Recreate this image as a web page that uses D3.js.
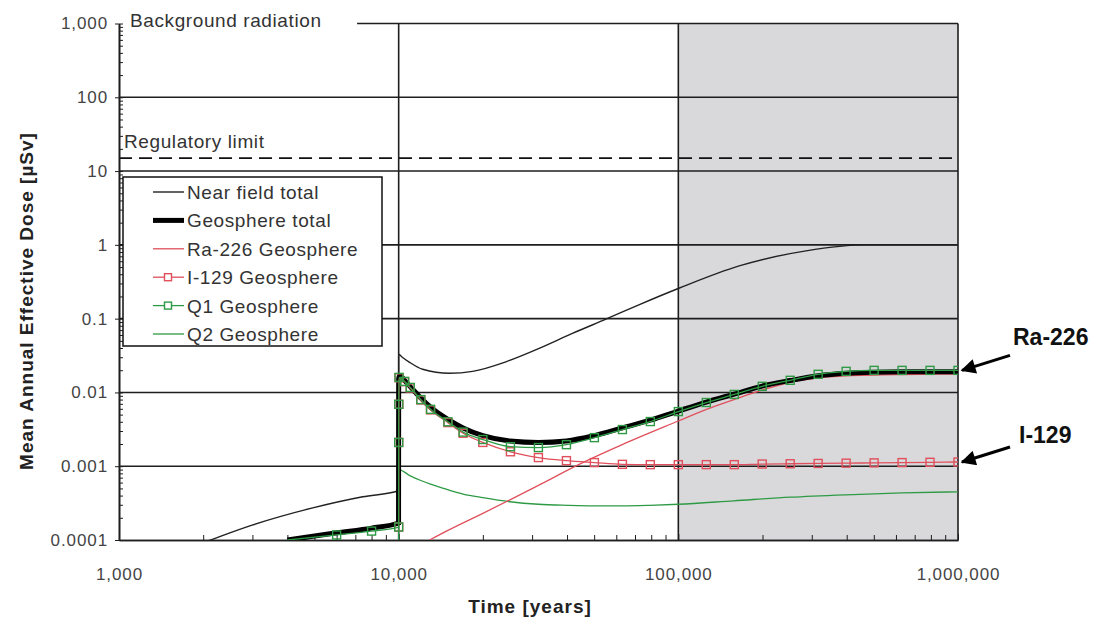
<!DOCTYPE html>
<html>
<head>
<meta charset="utf-8">
<script src="https://cdn.jsdelivr.net/npm/d3@7"></script>
<style>
  body { margin: 0; background: #fff; }
  text { font-family: "Liberation Sans", Arial, Helvetica, sans-serif; }
</style>
</head>
<body>
<script>
const WIDTH = 1094
const HEIGHT = 619
const svg = d3.select("body").append("svg").attr("width", WIDTH).attr("height", HEIGHT)

// axis ticks
const xTicks = [1000, 10000, 100000, 1000000]
const xTickLabels = ["1,000", "10,000", "100,000", "1,000,000"]
const yTicks = [0.0001, 0.001, 0.01, 0.1, 1, 10, 100, 1000]
const yTickLabels = ["0.0001", "0.001", "0.01", "0.1", "1", "10", "100", "1,000"]

// reference levels
const backgroundDose = 1000
const backgroundStart = 7100
const regulatoryDose = 15
const shadedFrom = 100000

// series (time in years, dose in µSv)
const nearFieldTime = [2000, 2170, 3010, 4930, 7440, 9990, 10000, 10300, 10940, 12180, 15200, 18370, 24300, 31800, 41800, 55300, 72600, 101000, 165000, 286000, 469000, 1000000]
const nearFieldDose = [0.000092, 0.000103, 0.00016, 0.000272, 0.000385, 0.000465, 0.0329, 0.030, 0.0256, 0.0206, 0.0182, 0.0193, 0.0262, 0.0395, 0.063, 0.099, 0.155, 0.26, 0.518, 0.83, 1.0, 1.0]

const geoTotalTime = [4000, 6000, 8000, 9990, 10000, 10100, 10500, 11000, 12000, 13000, 15000, 17000, 20000, 25000, 31600, 39800, 50100, 63100, 79400, 100000, 125900, 158500, 199500, 251200, 316200, 398100, 501200, 631000, 794300, 1000000]
const geoTotalDose = [0.0001, 0.000125, 0.000145, 0.00017, 0.0155, 0.017, 0.0145, 0.012, 0.0084, 0.0063, 0.0043, 0.0033, 0.0026, 0.0022, 0.0021, 0.0022, 0.0026, 0.0033, 0.0042, 0.0056, 0.0074, 0.0095, 0.0122, 0.0145, 0.0168, 0.0182, 0.0188, 0.019, 0.019, 0.019]

const ra226Time = [12900, 15000, 20000, 25000, 31600, 44000, 63000, 100000, 126000, 158000, 200000, 251000, 316000, 398000, 631000, 1000000]
const ra226Dose = [0.0001, 0.000135, 0.00023, 0.00035, 0.00055, 0.00105, 0.00196, 0.0041, 0.0059, 0.008, 0.0108, 0.0137, 0.0158, 0.0168, 0.0175, 0.0177]

const i129Time = [10000, 10003, 10010, 10030, 10500, 11000, 12000, 13000, 15000, 17000, 20000, 25100, 31600, 39800, 50100, 63100, 79400, 100000, 125900, 158500, 199500, 251200, 316200, 398100, 501200, 631000, 794300, 1000000]
const i129Dose = [0.00015, 0.0021, 0.0069, 0.0158, 0.014, 0.0115, 0.0079, 0.0058, 0.0039, 0.0028, 0.0021, 0.00157, 0.00131, 0.00119, 0.00112, 0.00106, 0.00105, 0.00105, 0.00105, 0.00105, 0.00107, 0.00108, 0.00109, 0.0011, 0.00111, 0.00112, 0.00113, 0.00114]

const q1Time = [4000, 6000, 8000, 10000, 10003, 10010, 10030, 10500, 11000, 12000, 13000, 15000, 17000, 20000, 25100, 31600, 39800, 50100, 63100, 79400, 100000, 125900, 158500, 199500, 251200, 316200, 398100, 501200, 631000, 794300, 1000000]
const q1Dose = [0.0001, 0.000117, 0.000132, 0.00015, 0.0021, 0.0069, 0.016, 0.0141, 0.0117, 0.008, 0.0059, 0.004, 0.0029, 0.0023, 0.00184, 0.00179, 0.00196, 0.00244, 0.00314, 0.00403, 0.0055, 0.0073, 0.0094, 0.0121, 0.0146, 0.0176, 0.0193, 0.0199, 0.0199, 0.0199, 0.0199]

const q2Time = [10000, 10001, 11000, 12000, 13000, 15000, 17000, 20000, 25000, 31600, 40000, 50000, 63000, 79000, 100000, 158000, 251000, 398000, 631000, 1000000]
const q2Dose = [0.0001, 0.0009, 0.00074, 0.00064, 0.00057, 0.00048, 0.00042, 0.000375, 0.00033, 0.000305, 0.000295, 0.00029, 0.00029, 0.000295, 0.000305, 0.00034, 0.00038, 0.00041, 0.000435, 0.00045]

const RED = "#e0505c"
const GREEN = "#2f9a45"
const GRID = "#1e1e1e"
const LABEL_FONT = 19
const LABEL_SPACING = 0.6

const x = d3.scaleLog().domain([1000, 1000000]).range([119, 958])
const y = d3.scaleLog().domain([0.0001, 1000]).range([540, 23.5])

const toPoints = (ts, ds) => ts.map((t, i) => [t, ds[i]])
const line = d3.line().x(d => x(d[0])).y(d => y(d[1])).curve(d3.curveMonotoneX)

svg.append("clipPath").attr("id", "plot")
  .append("rect")
  .attr("x", x(1000)).attr("y", y(1000))
  .attr("width", x(1000000) - x(1000)).attr("height", y(0.0001) - y(1000))

// shaded period
svg.append("rect")
  .attr("x", x(shadedFrom)).attr("y", y(1000))
  .attr("width", x(1000000) - x(shadedFrom)).attr("height", y(0.0001) - y(1000))
  .attr("fill", "#d9d9db")

// horizontal grid
svg.selectAll(".hgrid")
  .data(yTicks.filter(v => v > 0.0001 && v < 1000))
  .enter().append("line")
  .attr("x1", x(1000)).attr("x2", x(1000000))
  .attr("y1", d => y(d)).attr("y2", d => y(d))
  .attr("stroke", GRID).attr("stroke-width", 1.6)

// background radiation line
svg.append("line")
  .attr("x1", x(backgroundStart)).attr("x2", x(1000000))
  .attr("y1", y(backgroundDose)).attr("y2", y(backgroundDose))
  .attr("stroke", GRID).attr("stroke-width", 1.6)

// vertical grid + right border
svg.selectAll(".vgrid")
  .data([10000, 100000, 1000000])
  .enter().append("line")
  .attr("x1", d => x(d)).attr("x2", d => x(d))
  .attr("y1", y(1000)).attr("y2", y(0.0001))
  .attr("stroke", GRID).attr("stroke-width", 1.6)

// regulatory limit
svg.append("line")
  .attr("x1", x(1000)).attr("x2", x(1000000))
  .attr("y1", y(regulatoryDose)).attr("y2", y(regulatoryDose))
  .attr("stroke", "#111").attr("stroke-width", 1.7)
  .attr("stroke-dasharray", "13,7")

svg.append("text").attr("x", 130).attr("y", 27)
  .attr("font-size", LABEL_FONT).attr("letter-spacing", LABEL_SPACING).attr("fill", "#333").text("Background radiation")
svg.append("text").attr("x", 124).attr("y", 148)
  .attr("font-size", LABEL_FONT).attr("letter-spacing", LABEL_SPACING).attr("fill", "#333").text("Regulatory limit")

// axes
svg.append("g").attr("transform", `translate(${x(1000)},0)`)
  .call(d3.axisLeft(y).tickValues(yTicks).tickSize(4).tickSizeOuter(0).tickPadding(7)
    .tickFormat((d, i) => yTickLabels[i]))
const yMinor = []
yTicks.slice(0, -1).forEach(v => { for (let k = 2; k < 10; k++) yMinor.push(v * k) })
svg.append("g").attr("transform", `translate(${x(1000)},0)`)
  .call(d3.axisLeft(y).tickValues(yMinor.concat(yTicks)).tickSize(-4).tickSizeOuter(0).tickFormat(""))

const xMinor = []
xTicks.slice(0, -1).forEach(v => { for (let k = 2; k < 10; k++) xMinor.push(v * k) })
svg.append("g").attr("transform", `translate(0,${y(0.0001)})`)
  .call(d3.axisBottom(x).tickValues(xMinor).tickSize(-5).tickSizeOuter(0).tickFormat(""))
svg.append("g").attr("transform", `translate(0,${y(0.0001)})`)
  .call(d3.axisBottom(x).tickValues(xTicks).tickSize(-6).tickSizeOuter(0).tickPadding(28)
    .tickFormat((d, i) => xTickLabels[i]))

svg.selectAll(".domain").attr("stroke", GRID).attr("stroke-width", 1.6)
svg.selectAll(".tick line").attr("stroke", GRID)
svg.selectAll(".tick text").attr("font-size", 17).attr("letter-spacing", 0.9).attr("fill", "#444")
  .style("font-family", "'Liberation Sans', Arial, sans-serif")

svg.append("text")
  .attr("transform", "translate(33,301) rotate(-90)")
  .attr("text-anchor", "middle").attr("font-size", 19).attr("letter-spacing", 1)
  .attr("font-weight", "bold").attr("fill", "#222").text("Mean Annual Effective Dose [µSv]")
svg.append("text").attr("x", 530).attr("y", 613)
  .attr("text-anchor", "middle").attr("font-size", 19).attr("letter-spacing", 1)
  .attr("font-weight", "bold").attr("fill", "#222").text("Time [years]")

// curves
const plot = svg.append("g").attr("clip-path", "url(#plot)")
const series = [
  { name: "Near field total", t: nearFieldTime, d: nearFieldDose, color: "#222", width: 1.4 },
  { name: "Q2 Geosphere", t: q2Time, d: q2Dose, color: GREEN, width: 1.3 },
  { name: "Ra-226 Geosphere", t: ra226Time, d: ra226Dose, color: RED, width: 1.3 },
  { name: "Geosphere total", t: geoTotalTime, d: geoTotalDose, color: "#000", width: 5 },
  { name: "I-129 Geosphere", t: i129Time, d: i129Dose, color: RED, width: 1.3, marker: true },
  { name: "Q1 Geosphere", t: q1Time, d: q1Dose, color: GREEN, width: 1.3, marker: true }
]
series.forEach(s => {
  const pts = toPoints(s.t, s.d)
  plot.append("path").datum(pts)
    .attr("d", line).attr("fill", "none")
    .attr("stroke", s.color).attr("stroke-width", s.width)
  if (s.marker) {
    plot.selectAll(null).data(pts.filter(p => p[1] > 0.0001)).enter().append("rect")
      .attr("x", p => x(p[0]) - 4).attr("y", p => y(p[1]) - 4)
      .attr("width", 8).attr("height", 8)
      .attr("fill", "none").attr("stroke", s.color).attr("stroke-width", 1.4)
  }
})

// legend
const legendOrder = ["Near field total", "Geosphere total", "Ra-226 Geosphere", "I-129 Geosphere", "Q1 Geosphere", "Q2 Geosphere"]
const legend = svg.append("g")
legend.append("rect").attr("x", 123).attr("y", 177).attr("width", 259).attr("height", 169)
  .attr("fill", "#fff").attr("stroke", "#111").attr("stroke-width", 1.5)
legendOrder.forEach((name, i) => {
  const s = series.find(d => d.name === name)
  const ly = 192 + i * 28.4
  legend.append("line").attr("x1", 153).attr("x2", 184).attr("y1", ly).attr("y2", ly)
    .attr("stroke", s.color).attr("stroke-width", s.width)
  if (s.marker) {
    legend.append("rect").attr("x", 164.5).attr("y", ly - 3.5).attr("width", 7).attr("height", 7)
      .attr("fill", "#fff").attr("stroke", s.color).attr("stroke-width", 1.4)
  }
  legend.append("text").attr("x", 187).attr("y", ly + 7)
    .attr("font-size", LABEL_FONT).attr("letter-spacing", LABEL_SPACING).attr("fill", "#333").text(name)
})

// end-of-curve annotations
svg.append("defs").append("marker").attr("id", "arrow")
  .attr("viewBox", "0 0 10 10").attr("refX", 9).attr("refY", 5)
  .attr("markerWidth", 6).attr("markerHeight", 5).attr("orient", "auto")
  .append("path").attr("d", "M0,0 L10,5 L0,10 Z").attr("fill", "#000")
const notes = [
  { label: "Ra-226", dose: q1Dose[q1Dose.length - 1] },
  { label: "I-129", dose: i129Dose[i129Dose.length - 1] }
]
notes.forEach((n, i) => {
  const tx = x(1000000) + 4, ty = y(n.dose)
  svg.append("line").attr("x1", tx + 48).attr("y1", ty - 15).attr("x2", tx).attr("y2", ty)
    .attr("stroke", "#000").attr("stroke-width", 3).attr("marker-end", "url(#arrow)")
  svg.append("text").attr("x", tx + (i === 0 ? 51 : 57)).attr("y", ty - (i === 0 ? 25 : 19))
    .attr("font-size", 23).attr("font-weight", "bold").attr("fill", "#111").text(n.label)
})
</script>
</body>
</html>
